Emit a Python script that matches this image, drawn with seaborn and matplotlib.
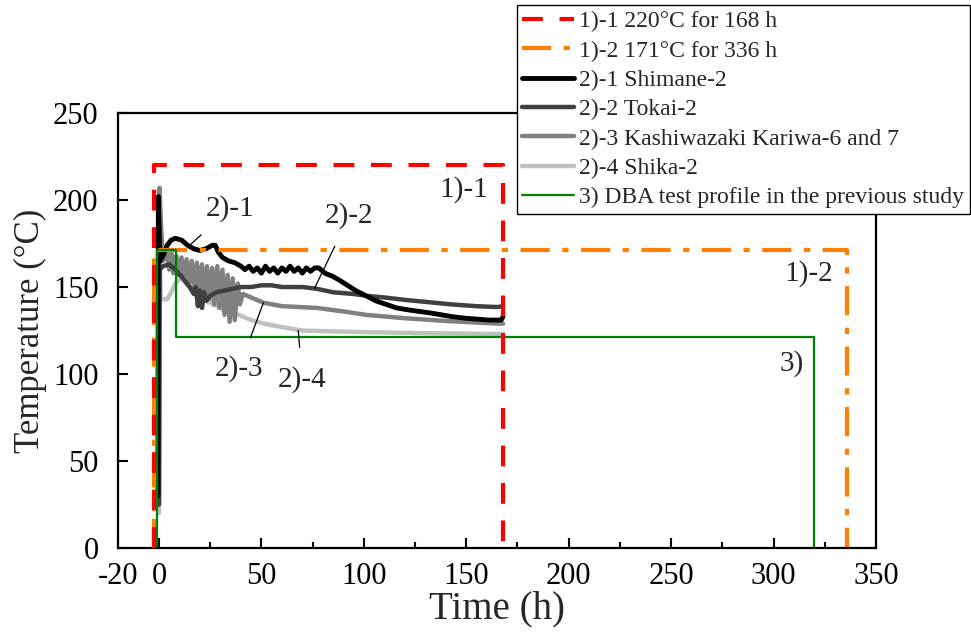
import pandas as pd
import matplotlib.pyplot as plt
import seaborn as sns
from matplotlib.ticker import MultipleLocator

# Set style
sns.set_theme(style='white')
plt.rcParams['font.family'] = ['Liberation Serif', 'DejaVu Serif']
plt.rcParams['axes.unicode_minus'] = False

# 1) test profiles (time in h, temperature in degC)
p11_t = [-2.5, -2.5, 168, 168]
p11_T = [0, 220, 220, 0]
p12_t = [-2.5, -2.5, 336, 336]
p12_T = [0, 171, 171, 0]

# 3) DBA test profile in the previous study
p3_t = [-1, -1, 8.5, 8.5, 320, 320]
p3_T = [0, 171, 171, 121, 121, 0]

# 2)-1 Shimane-2
shimane_t = [-0.5, -0.3, 0.5, 2, 4, 6, 8, 11, 14, 17, 20, 23, 26, 27.5, 29, 31,
             34, 37, 40, 42, 44, 46, 48, 50, 52, 54, 56, 58, 60, 62, 64, 66, 68,
             70, 72, 74, 76, 78, 81, 85, 88, 92, 96, 101, 106, 111, 116, 121,
             127, 133, 138, 143, 150, 156, 161, 165, 167, 168]
shimane_T = [30, 202, 165, 168, 174, 177, 178, 177, 174, 172, 171, 172, 174, 174, 170, 167,
             165, 164, 162, 160, 162, 159, 161, 158, 162, 159, 161, 158, 161, 159, 162, 159, 161,
             158, 161, 159, 161, 161, 158, 156, 154, 151, 148, 145, 142, 140, 138, 137,
             136, 135, 134, 133, 132, 131.5, 131, 131, 131, 133]

# 2)-2 Tokai-2
tokai_t = [0, 0.3, 2, 5, 8, 11, 13, 15, 17, 18, 19, 20, 21, 22, 23, 25, 28, 32, 36,
           40, 45, 50, 55, 60, 70, 77, 85, 95, 101, 110, 121, 130, 143, 155, 165, 168]
tokai_T = [25, 160, 162, 163, 160, 156, 153, 150, 146, 150, 139, 148, 138, 147, 142, 145, 147, 148, 149,
           150, 150, 151, 151, 150, 150, 149, 147, 146, 145, 144, 142.5, 141.5, 140, 139, 138.5, 139]

# 2)-3 Kashiwazaki Kariwa-6 and 7
kk_t = [0, 0.3, 1, 2, 3, 4, 5, 6, 7, 8.5, 9.5, 11, 12, 13.5, 14.5, 16, 17, 18.5, 19.5,
        21, 22, 23.5, 24.5, 26, 27, 28.5, 29.5, 31, 32, 33.5, 34.5, 36, 37, 38.5, 39.5,
        41, 45, 51, 60, 77, 90, 101, 121, 140, 165, 168]
kk_T = [25, 207, 185, 165, 168, 169, 160, 170, 158, 168, 157, 167, 155, 166, 152, 165, 150, 164, 148,
        163, 145, 162, 143, 161, 140, 162, 138, 160, 134, 157, 130, 155, 131, 152, 140,
        146, 144, 141, 139, 138, 136, 134, 132, 130.5, 129, 129]

# 2)-4 Shika-2
shika_t = [0, 0.4, 0.8, 2, 4, 6, 8, 10, 12, 14, 16, 18, 20, 22, 23, 24, 25, 26, 27, 28,
           29, 31, 35, 39, 45, 51, 60, 70, 85, 104, 130, 165, 168]
shika_T = [20, 190, 144, 143, 143, 147, 152, 155, 154, 151, 149, 147, 145, 143, 150, 141, 157, 140, 155, 139,
           150, 137, 135, 134, 131, 129, 127, 125, 124.5, 124, 123.5, 123, 123]

labels = ['1)-1 220°C for 168 h', '1)-2 171°C for 336 h', '2)-1 Shimane-2',
          '2)-2 Tokai-2', '2)-3 Kashiwazaki Kariwa-6 and 7', '2)-4 Shika-2',
          '3) DBA test profile in the previous study']


def draw(ax, t, T, **kw):
    df = pd.DataFrame({'t': t, 'T': T})
    sns.lineplot(data=df, x='t', y='T', sort=False, estimator=None, ax=ax, **kw)


fig = plt.figure(figsize=(9.71, 6.43), dpi=100)
ax = fig.add_axes([0.1215, 0.1477, 0.7806, 0.6765])

draw(ax, shika_t, shika_T, color='#c0c0c0', lw=3.2, label=labels[5], zorder=2)
draw(ax, kk_t, kk_T, color='#808080', lw=3.2, label=labels[4], zorder=2.1)
draw(ax, tokai_t, tokai_T, color='#404040', lw=3.2, label=labels[3], zorder=2.2)
draw(ax, shimane_t, shimane_T, color='black', lw=3.5, label=labels[2], zorder=2.3)
draw(ax, p12_t, p12_T, color='#ff8000', lw=3, linestyle=(0, (7, 3, 1.5, 3)),
     label=labels[1], zorder=2.4)
draw(ax, p11_t, p11_T, color='#ff0000', lw=3, linestyle=(0, (5, 4)),
     label=labels[0], zorder=2.6)
draw(ax, p3_t, p3_T, color='#008000', lw=1.6, label=labels[6], zorder=2.5)

ax.set_xlim(-20, 350)
ax.set_ylim(0, 250)
ax.set_xticks([-20, 0, 50, 100, 150, 200, 250, 300, 350])
ax.xaxis.set_minor_locator(MultipleLocator(25))
ax.set_yticks([0, 50, 100, 150, 200, 250])
ax.tick_params(axis='both', which='both', direction='in', labelsize=22,
               bottom=True, left=True, top=False, right=False, width=1.5, colors='black')
ax.tick_params(axis='x', which='major', length=7, pad=10)
ax.tick_params(axis='x', which='minor', length=4)
ax.tick_params(axis='y', which='major', length=7, pad=14)
for s in ax.spines.values():
    s.set_color('black')
    s.set_linewidth(1.6)

ax.set_xlabel('Time (h)', fontsize=28, labelpad=0)
ax.set_ylabel('Temperature (°C)', fontsize=25, labelpad=4)

# annotations
fs = 21
ax.text(149, 206, '1)-1', fontsize=fs, ha='center', va='center')
ax.text(317, 158, '1)-2', fontsize=fs, ha='center', va='center')
ax.text(309, 106, '3)', fontsize=fs, ha='center', va='center')
ax.annotate('2)-1', xy=(15, 174), xytext=(34.6, 195), fontsize=fs, ha='center', va='center',
            arrowprops=dict(arrowstyle='-', color='black', lw=0.9, shrinkA=10, shrinkB=0))
ax.annotate('2)-2', xy=(76, 149.4), xytext=(93, 191), fontsize=fs, ha='center', va='center',
            arrowprops=dict(arrowstyle='-', color='black', lw=0.9, shrinkA=11, shrinkB=0))
ax.annotate('2)-3', xy=(51, 141), xytext=(39, 103), fontsize=fs, ha='center', va='center',
            arrowprops=dict(arrowstyle='-', color='black', lw=0.9, shrinkA=11, shrinkB=0))
ax.annotate('2)-4', xy=(68, 125), xytext=(70, 97), fontsize=fs, ha='center', va='center',
            arrowprops=dict(arrowstyle='-', color='black', lw=0.9, shrinkA=11, shrinkB=0))

handles, labs = ax.get_legend_handles_labels()
hmap = dict(zip(labs, handles))
leg = ax.legend([hmap[l] for l in labels], labels, loc='upper right',
                bbox_to_anchor=(970 / 971, 1 - 5 / 643), bbox_transform=fig.transFigure,
                fontsize=17, frameon=True, fancybox=False, edgecolor='black', framealpha=1,
                borderpad=0.25, labelspacing=0.33, handlelength=2.2, handletextpad=0.2,
                borderaxespad=0)
leg.get_frame().set_linewidth(1.0)

plt.savefig('out.png', dpi=100)
plt.close()
